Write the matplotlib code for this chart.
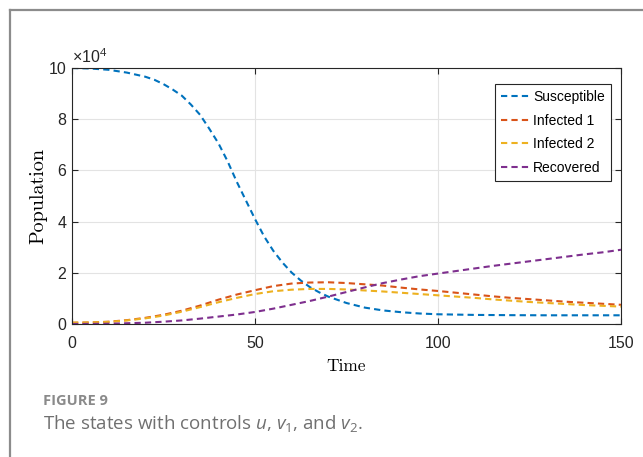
import matplotlib
matplotlib.use("Agg")
import matplotlib.pyplot as plt
from matplotlib.lines import Line2D

# values, population in units of 10^4
time = [0, 5, 10, 15, 20, 25, 30, 35, 40, 45, 50, 55, 60, 65, 70, 75,
        80, 85, 90, 95, 100, 105, 110, 115, 120, 125, 130, 135, 140, 145, 150]
# susceptible drops fast, so it was read on a finer grid
time_s = [0, 5, 10, 15, 20, 22.5, 25, 27.5, 30, 32.5, 35, 37.5, 40, 42.5, 45, 47.5,
          50, 52.5, 55, 57.5, 60, 62.5, 65, 67.5, 70, 75, 80, 85, 90, 95, 100,
          110, 120, 130, 140, 150]
susceptible = [10.0, 9.98, 9.93, 9.82, 9.66, 9.54, 9.37, 9.16, 8.92, 8.57, 8.17, 7.63,
               7.06, 6.36, 5.56, 4.83, 4.1, 3.42, 2.86, 2.4, 2.01, 1.7, 1.44, 1.24,
               1.07, 0.82, 0.64, 0.53, 0.46, 0.41, 0.38, 0.355, 0.345, 0.34, 0.34, 0.34]
infected1 = [0.05, 0.06, 0.09, 0.15, 0.24, 0.36, 0.52, 0.72, 0.95, 1.15, 1.32, 1.48,
             1.58, 1.62, 1.63, 1.6, 1.55, 1.5, 1.42, 1.35, 1.29, 1.22, 1.15, 1.08,
             1.02, 0.97, 0.92, 0.87, 0.83, 0.79, 0.75]
infected2 = [0.05, 0.06, 0.08, 0.14, 0.22, 0.33, 0.48, 0.66, 0.85, 1.02, 1.17, 1.28,
             1.34, 1.37, 1.37, 1.35, 1.31, 1.27, 1.22, 1.17, 1.12, 1.07, 1.02, 0.96,
             0.91, 0.86, 0.82, 0.78, 0.74, 0.71, 0.68]
recovered = [0.0, 0.005, 0.01, 0.03, 0.05, 0.09, 0.14, 0.21, 0.29, 0.37, 0.47, 0.6,
             0.75, 0.9, 1.07, 1.25, 1.43, 1.6, 1.74, 1.87, 1.97, 2.07, 2.17, 2.27,
             2.36, 2.45, 2.54, 2.63, 2.72, 2.8, 2.9]

series = [
    ("Susceptible", time_s, susceptible, "#0072BD"),
    ("Infected 1", time, infected1, "#D95319"),
    ("Infected 2", time, infected2, "#EDB120"),
    ("Recovered", time, recovered, "#7E2F8E"),
]
x_ticks = [0, 50, 100, 150]
y_ticks = [0, 2, 4, 6, 8, 10]

plt.rcParams["font.family"] = "Liberation Sans"
plt.rcParams["mathtext.fontset"] = "custom"
plt.rcParams["mathtext.rm"] = "Open Sans"
plt.rcParams["mathtext.it"] = "Open Sans:italic"

W, H = 643, 457
fig = plt.figure(figsize=(W / 100, H / 100), dpi=100)
ax = fig.add_axes([72 / W, 1 - 324 / H, (621 - 72) / W, (324 - 68) / H])

for name, tt, vals, col in series:
    ax.plot(tt, vals, color=col, lw=1.5, linestyle=(0, (3, 2)), label=name)

ax.set_xlim(0, 150)
ax.set_ylim(0, 10)
ax.set_xticks(x_ticks)
ax.set_yticks(y_ticks)
ax.grid(True, color="#e3e3e3", lw=0.8)
ax.set_axisbelow(True)
ax.tick_params(direction="in", length=4, width=0.8, top=True, right=True,
               labelsize=11.5, colors="#262626")
ax.tick_params(axis="x", pad=9)
ax.tick_params(axis="y", pad=4)
for s in ax.spines.values():
    s.set_color("#262626")
    s.set_linewidth(0.8)

ax.set_xlabel("Time", family="cmr10", fontsize=12.5, labelpad=5)
ax.set_ylabel("Population", family="cmr10", fontsize=14.5, labelpad=1)
ax.text(0, 1.008, r"×10$^{4}$", transform=ax.transAxes, fontsize=11.5,
        color="#262626", ha="left", va="bottom")

leg = ax.legend(loc="upper right", bbox_to_anchor=((611 - 72) / 549, 1 - 16 / 256),
                borderaxespad=0, fontsize=10, handlelength=2.0, handletextpad=0.3,
                labelspacing=0.68, borderpad=0.45, fancybox=False, framealpha=1,
                edgecolor="#262626")
leg.get_frame().set_linewidth(0.8)

# outer frame of the page
fig.add_artist(Line2D([10 / W, 10 / W], [0, 1 - 10 / H], color="#8c8c8c", lw=1.6))
fig.add_artist(Line2D([10 / W, 1], [1 - 10 / H, 1 - 10 / H], color="#8c8c8c", lw=1.6))

fig.text(43 / W, 1 - 401 / H, "FIGURE 9", family="Open Sans", fontweight="bold",
         fontsize=10.5, color="#8a8a8a", va="center")
fig.text(43 / W, 1 - 424 / H, r"The states with controls $\mathit{u}$, $\mathit{v}_1$, and $\mathit{v}_2$.",
         family="Open Sans", fontsize=13.5, color="#707070", va="center")

fig.savefig("out.png", dpi=100)
